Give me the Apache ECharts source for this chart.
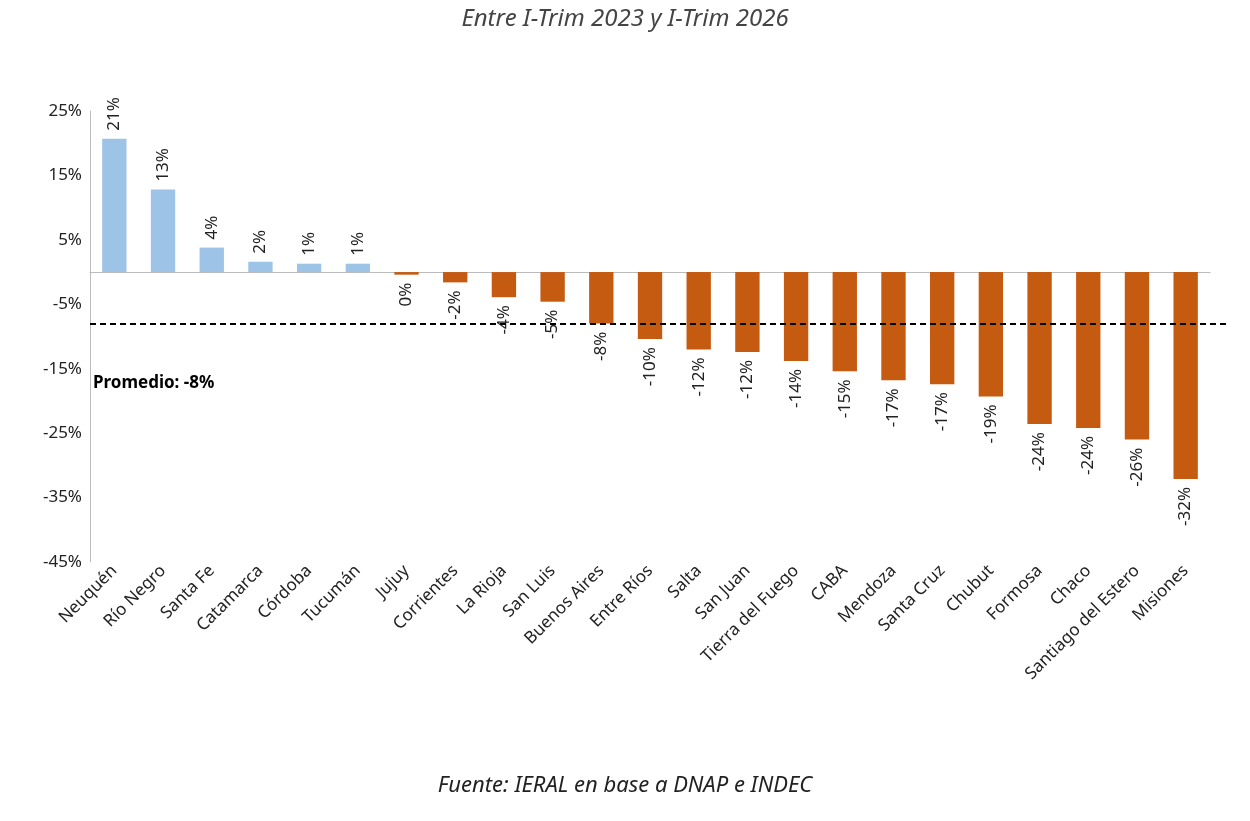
<!DOCTYPE html>
<html><head><meta charset="utf-8">
<script src="https://cdn.jsdelivr.net/npm/echarts@6/dist/echarts.min.js"></script>
<style>body{margin:0;background:#fff}#c{width:1250px;height:821px}</style></head>
<body><div id="c"></div>
<script>
const categories=["Neuquén","Río Negro","Santa Fe","Catamarca","Córdoba","Tucumán","Jujuy","Corrientes","La Rioja","San Luis","Buenos Aires","Entre Ríos","Salta","San Juan","Tierra del Fuego","CABA","Mendoza","Santa Cruz","Chubut","Formosa","Chaco","Santiago del Estero","Misiones"];
const values=[20.7,12.8,3.8,1.6,1.3,1.3,-0.4,-1.6,-3.9,-4.6,-8.0,-10.4,-12.0,-12.4,-13.8,-15.4,-16.8,-17.4,-19.3,-23.6,-24.2,-26.0,-32.1];
const average=-8;
const F='"Noto Sans"';
const chart=echarts.init(document.getElementById('c'));
chart.setOption({
 animation:false,
 title:[{text:'Entre I-Trim 2023 y I-Trim 2026',left:'center',top:2,textStyle:{fontStyle:'italic',fontWeight:'normal',fontSize:24,color:'#444',fontFamily:F}},
  {text:'Fuente: IERAL en base a DNAP e INDEC',left:'center',top:770,textStyle:{fontStyle:'italic',fontWeight:'normal',fontSize:22,color:'#222',fontFamily:F}}],
 graphic:[{type:'text',left:93,top:375,style:{text:'Promedio: -8%',font:'bold 17px "Noto Sans"',fill:'#000'}}],
 grid:{left:90,right:40,top:111,bottom:259},
 xAxis:{type:'category',data:categories,axisTick:{show:false},axisLine:{onZero:true,lineStyle:{color:'#bbb'}},
  axisLabel:{interval:0,rotate:45,fontSize:17,color:'#222',fontFamily:F,margin:6}},
 yAxis:{type:'value',min:-45,max:25,interval:10,splitLine:{show:false},axisLine:{show:true,lineStyle:{color:'#bbb'}},
  axisLabel:{formatter:v=>v+'%',fontSize:17,color:'#222',fontFamily:F}},
 series:[{type:'bar',barWidth:'50%',
  data:values.map(v=>({value:v,itemStyle:{color:v>=0?'#9DC3E6':'#C55A11'},
   label:{show:true,position:v>=0?'top':'bottom',rotate:90,align:v>=0?'left':'right',verticalAlign:'middle',distance:8,
    formatter:Math.round(v)+'%',fontSize:17,color:'#222',fontFamily:F}})),
  markLine:{symbol:'none',silent:true,label:{show:false},lineStyle:{type:[6,4],color:'#000',width:2},
   data:[[{xAxis:0,yAxis:average,x:90},{xAxis:22,yAxis:average,x:1230}]]}
 }]
});
</script></body></html>
